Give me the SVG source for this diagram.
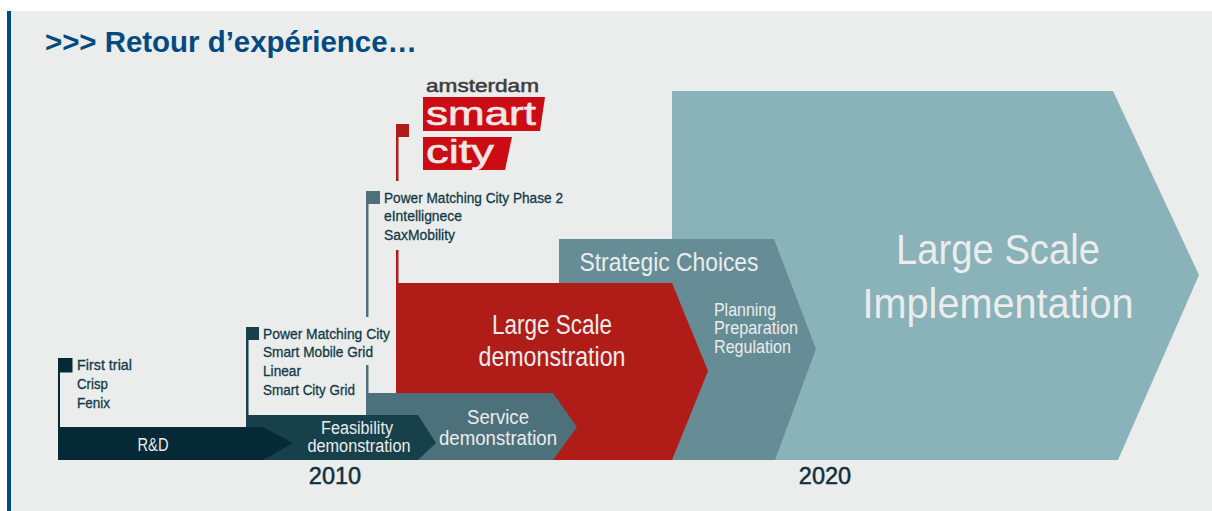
<svg xmlns="http://www.w3.org/2000/svg" width="1212" height="511" viewBox="0 0 1212 511">
<style>
text{font-family:"Liberation Sans",Arial,sans-serif}
.l{fill:#ebecec;text-anchor:middle}
.s{fill:#ebecec}
.n{fill:#0f3a47;font-size:15.5px;stroke:#0f3a47;stroke-width:.3px}
.y{fill:#10303c;font-size:23.5px;text-anchor:middle;stroke:#10303c;stroke-width:.5px}
</style>
<rect width="1212" height="511" fill="#fff"/>
<rect x="7" y="11" width="1205" height="500" fill="#ebecec"/>
<rect x="7" y="11" width="4" height="500" fill="#024a80"/>
<text x="45" y="52" font-size="29" font-weight="700" fill="#024a80" textLength="372" lengthAdjust="spacingAndGlyphs">&gt;&gt;&gt; Retour d’expérience…</text>
<g id="large-scale-implementation">
<polygon points="672,91 1113,91 1199,275 1118,460 672,460" fill="#8ab2b9"/>
<text class="l" x="998" y="264" font-size="43" textLength="204" lengthAdjust="spacingAndGlyphs">Large Scale</text>
<text class="l" x="998" y="318" font-size="43" textLength="271" lengthAdjust="spacingAndGlyphs">Implementation</text>
</g>
<g id="strategic-choices">
<polygon points="559,239 774,239 816,349 775,460 559,460" fill="#668c96"/>
<text class="l" x="669" y="271" font-size="26" textLength="179" lengthAdjust="spacingAndGlyphs">Strategic Choices</text>
<text class="s" x="714" y="316" font-size="18" textLength="62" lengthAdjust="spacingAndGlyphs">Planning</text>
<text class="s" x="714" y="334" font-size="18" textLength="84" lengthAdjust="spacingAndGlyphs">Preparation</text>
<text class="s" x="714" y="353" font-size="18" textLength="77" lengthAdjust="spacingAndGlyphs">Regulation</text>
</g>
<g id="large-scale-demonstration">
<rect x="396" y="250" width="2.5" height="40" fill="#b01c18"/>
<rect x="396" y="124" width="2.500" height="57" fill="#b01c18"/>
<rect x="396" y="124" width="13" height="13" fill="#b01c18"/>
<polygon points="396,283 672,283 708,371 672,460 396,460" fill="#b01c18"/>
<text class="l" x="552" y="334" font-size="27" textLength="120" lengthAdjust="spacingAndGlyphs">Large Scale</text>
<text class="l" x="552" y="366" font-size="27" textLength="147" lengthAdjust="spacingAndGlyphs">demonstration</text>
</g>
<g id="service-demonstration">
<rect x="366" y="191" width="2.5" height="126" fill="#4d717b"/>
<rect x="366" y="365" width="2.5" height="30" fill="#4d717b"/>
<rect x="366" y="191" width="14" height="13" fill="#4d717b"/>
<polygon points="366,393 553,393 577,427 553,460 366,460" fill="#4d717b"/>
<text class="l" x="498" y="424" font-size="20.500" textLength="62" lengthAdjust="spacingAndGlyphs">Service</text>
<text class="l" x="498" y="445" font-size="20.500" textLength="118" lengthAdjust="spacingAndGlyphs">demonstration</text>
<text class="n" x="384" y="203" textLength="179" lengthAdjust="spacingAndGlyphs">Power Matching City Phase 2</text>
<text class="n" x="384" y="221" textLength="78" lengthAdjust="spacingAndGlyphs">eIntellignece</text>
<text class="n" x="384" y="240" textLength="71" lengthAdjust="spacingAndGlyphs">SaxMobility</text>
</g>
<g id="feasibility-demonstration">
<rect x="246" y="327" width="2.5" height="90" fill="#18404b"/>
<rect x="246" y="327" width="13" height="13" fill="#18404b"/>
<polygon points="246,415 418,415 436,443 418,460 246,460" fill="#18404b"/>
<text class="l" x="357" y="434" font-size="18" textLength="72" lengthAdjust="spacingAndGlyphs">Feasibility</text>
<text class="l" x="359" y="452" font-size="18" textLength="103" lengthAdjust="spacingAndGlyphs">demonstration</text>
<text class="n" x="263" y="339" textLength="127" lengthAdjust="spacingAndGlyphs">Power Matching City</text>
<text class="n" x="263" y="357" textLength="110" lengthAdjust="spacingAndGlyphs">Smart Mobile Grid</text>
<text class="n" x="263" y="376" textLength="38" lengthAdjust="spacingAndGlyphs">Linear</text>
<text class="n" x="263" y="395" textLength="92" lengthAdjust="spacingAndGlyphs">Smart City Grid</text>
</g>
<g id="rd">
<rect x="58" y="358" width="2" height="70" fill="#052a35"/>
<rect x="58" y="358" width="14.500" height="14.500" fill="#052a35"/>
<polygon points="58,427 263,427 293,443 263,460 58,460" fill="#052a35"/>
<text class="l" x="153" y="451" font-size="18" textLength="31" lengthAdjust="spacingAndGlyphs">R&amp;D</text>
<text class="n" x="77" y="370" textLength="55" lengthAdjust="spacingAndGlyphs">First trial</text>
<text class="n" x="77" y="389" textLength="31" lengthAdjust="spacingAndGlyphs">Crisp</text>
<text class="n" x="77" y="408" textLength="33" lengthAdjust="spacingAndGlyphs">Fenix</text>
</g>
<text class="y" x="335" y="484">2010</text>
<text class="y" x="825" y="484">2020</text>
<g id="logo">
<polygon points="423,97 545,97 540,131 423,131" fill="#cc0c14"/>
<polygon points="423,137 512,137 505,170 423,170" fill="#cc0c14"/>
<text x="426" y="92" font-size="18" fill="#3c3c3c" stroke="#3c3c3c" stroke-width=".5" textLength="113" lengthAdjust="spacingAndGlyphs">amsterdam</text>
<text x="426" y="125" font-size="33" fill="#f2e6e6" stroke="#f2e6e6" stroke-width=".6" textLength="110" lengthAdjust="spacingAndGlyphs">smart</text>
<text x="426" y="163" font-size="33" fill="#f2e6e6" stroke="#f2e6e6" stroke-width=".6" textLength="68" lengthAdjust="spacingAndGlyphs">city</text>
</g>
</svg>
